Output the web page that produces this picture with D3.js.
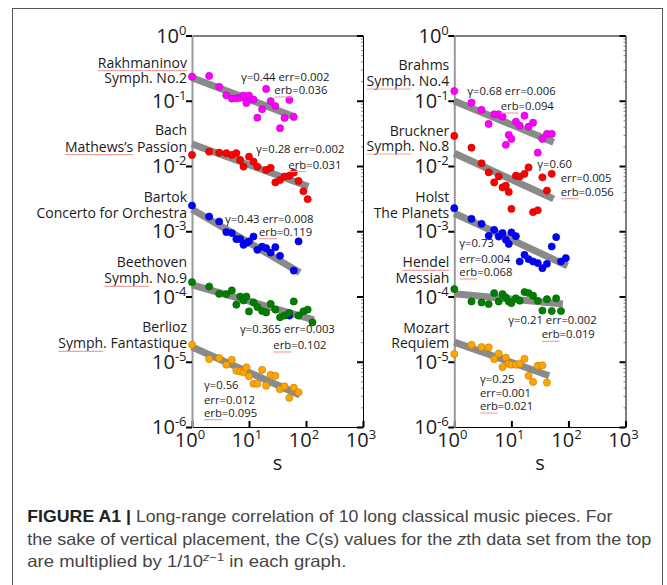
<!DOCTYPE html>
<html>
<head>
<meta charset="utf-8">
<script src="https://cdn.jsdelivr.net/npm/d3@7"></script>
<style>
  body { margin: 0; background: #fff; }
  svg text { font-family: "Open Sans", "DejaVu Sans", sans-serif; }
</style>
</head>
<body>
<div id="graph"></div>
<script>
// window sizes s shared by all pieces (log spaced)
const sGrid = [1, 2, 3, 4, 5, 6, 7, 8, 9, 10, 12, 14, 17, 20, 24, 29, 35, 42, 51, 61, 74, 90, 107, 130];

// LEFT GRAPH - C(s) values, one entry per sGrid position (null = no point)
const cRakhmaninov = [0.234, 0.24, 0.164, 0.121, 0.108, 0.109, 0.111, 0.120, 0.0925, 0.120, 0.104, 0.055, 0.074, 0.152, 0.099, 0.083, 0.038, 0.0545, 0.103, 0.0565];
const cBach = [0.0148, 0.0166, 0.0160, 0.0157, 0.0148, 0.0157, 0.0124, 0.0098, null, 0.0139, 0.0117, 0.0098, null, 0.0087, 0.0094, 0.0056, 0.0061, 0.0069, 0.0071, 0.0079, 0.0059, 0.0041, 0.0031];
const cBartok = [0.00248, 0.00168, 0.00141, 0.00097, 0.00094, 0.00076, 0.00076, 0.00062, 0.00066, 0.00070, 0.00083, 0.00052, 0.00058, 0.00055, 0.00047, 0.00057, 0.00042, null, 0.000051, 0.00025, 0.00070];
const cBeethoven = [1.66e-4, 1.42e-4, 1.10e-4, 1.09e-4, 1.24e-4, 7.5e-5, 1.0e-4, 8.7e-5, 1.0e-4, 5.9e-5, 8.1e-5, 6.9e-5, 6.0e-5, 5.7e-5, 7.7e-5, 6.3e-5, 4.8e-5, 5.1e-5, 5.6e-5, 8.4e-5, 5.1e-5, 5.9e-5, 6.3e-5, 4.0e-5];
const cBerlioz = [1.82e-5, 1.10e-5, 1.14e-5, 9.0e-6, 1.07e-5, 7.3e-6, 7.1e-6, 6.9e-6, 8.2e-6, 6.0e-6, 4.6e-6, 4.6e-6, 7.5e-6, 4.3e-6, 6.3e-6, 6.1e-6, 3.8e-6, 4.2e-6, 2.8e-6, 4.0e-6, 3.4e-6];

// RIGHT GRAPH
const cBrahms = [0.141, 0.0935, 0.0723, 0.0441, 0.0621, 0.0621, 0.0571, 0.0211, 0.0299, 0.0260, 0.0479, 0.0416, 0.0591, 0.0401, 0.0462, 0.0160, 0.0260, 0.0310, 0.0310];
const cBruckner = [0.0289, 0.0191, 0.0110, 0.0080, 0.0056, 0.0069, 0.0047, 0.0050, 0.0040, 0.0022, 0.0071, 0.0069, 0.0076, 0.0095, 0.00196, 0.0021, 0.0067, 0.0042, 0.0076];
const cHolst = [0.00226, 0.00155, 0.00130, 0.00085, 0.00105, 0.00083, 0.00094, 0.00074, 0.00064, 0.00096, 0.00084, 0.000344, 0.000435, 0.000374, 0.000344, 0.000325, 0.000272, 0.000317, 0.000583, 0.000813, 0.000344, 0.000387];
const cHendel = [1.30e-4, 8.4e-5, 8.1e-5, 7.65e-5, 1.13e-4, 8.4e-5, 1.09e-4, 9.7e-5, 8.4e-5, 7.9e-5, 9.4e-5, 8.6e-5, 1.17e-4, 1.13e-4, 1.03e-4, 8.6e-5, 6.1e-5, 9.1e-5, 6.0e-5, 9.4e-5, 6.0e-5];
const cMozart = [1.31e-5, 1.82e-5, 1.68e-5, 1.66e-5, 1.10e-5, 1.33e-5, 8.3e-6, 1.16e-5, 9.3e-6, 9.0e-6, 9.0e-6, 9.3e-6, 1.11e-5, 6.1e-6, 4.9e-6, 8.7e-6, 8.8e-6, 4.8e-6];

// fitted power-law lines: C at s=1, last s, C at last s
const leftFitC0 = [0.225, 0.0218, 0.00218, 1.51e-4, 1.68e-5];
const leftFitS1 = [64, 110, 78, 138, 78];
const leftFitC1 = [0.0565, 0.00484, 0.000233, 4.4e-5, 3.1e-6];
const rightFitC0 = [0.0993, 0.0157, 0.00189, 1.10e-4, 2.0e-5];
const rightFitS1 = [55, 55, 96, 80, 46];
const rightFitC1 = [0.0231, 0.00313, 0.000295, 7.7e-5, 6.1e-6];

const seriesColors = ["#ff00ff", "#ff0000", "#0000ff", "#008000", "#ffa500"];

// "~" marks words with the red spell-check underline
const leftNames = [["~Rakhmaninov~", "Symph. No.2"], ["Bach", "~Mathews’s~ Passion"], ["Bartok", "Concerto for Orchestra"], ["Beethoven", "~Symph~. No.9"], ["Berlioz", "~Symph~. Fantastique"]];
const rightNames = [["Brahms", "~Symph~. No.4"], ["Bruckner", "~Symph~. No.8"], ["Holst", "The Planets"], ["~Hendel~", "Messiah"], ["Mozart", "Requiem"]];
const leftNotes = [["γ=0.44 err=0.002", "~erb~=0.036"], ["γ=0.28 err=0.002", "~erb~=0.031"], ["γ=0.43 err=0.008", "~erb~=0.119"], ["γ=0.365 err=0.003", "~erb~=0.102"], ["γ=0.56", "err=0.012", "~erb~=0.095"]];
const rightNotes = [["γ=0.68 err=0.006", "~erb~=0.094"], ["γ=0.60", "err=0.005", "~erb~=0.056"], ["γ=0.73", "err=0.004", "~erb~=0.068"], ["γ=0.21 err=0.002", "~erb~=0.019"], ["γ=0.25", "err=0.001", "~erb~=0.021"]];

const yExponents = [0, -1, -2, -3, -4, -5, -6];
const xExponents = [0, 1, 2, 3];

var svgWidth = 667;
var svgHeight = 585;

var svg = d3.select("#graph")
  .append("svg")
  .attr("width", svgWidth)
  .attr("height", svgHeight);

// figure box
svg.append("rect")
  .attr("x", 12.5).attr("y", 8.5)
  .attr("width", 650).attr("height", 600)
  .attr("fill", "none").attr("stroke", "#555");

var plotTop = 35.5, plotBottom = 427;
var yScale = d3.scaleLog().domain([1e-6, 1]).range([plotBottom, plotTop]);

// text with optional "~word~" underlines
function addText(g, str, x, y, anchor, size) {
  let plain = "", open = -1;
  const ranges = [];
  for (const ch of str) {
    if (ch === "~") {
      if (open < 0) open = plain.length;
      else { ranges.push([open, plain.length]); open = -1; }
    } else plain += ch;
  }
  const t = g.append("text")
    .attr("x", x).attr("y", y)
    .attr("text-anchor", anchor)
    .attr("font-size", size)
    .attr("fill", "#1a1a1a")
    .text(plain);
  ranges.forEach(r => {
    const n = t.node();
    const xa = n.getStartPositionOfChar(r[0]).x;
    const xb = n.getEndPositionOfChar(r[1] - 1).x;
    g.append("line")
      .attr("x1", xa).attr("x2", xb)
      .attr("y1", y + 3).attr("y2", y + 3)
      .attr("stroke", "#f2a3a3").attr("stroke-width", 1.2);
  });
  return t;
}

function pow10(t, e) {
  t.append("tspan").text("10");
  t.append("tspan").attr("dy", -8).attr("font-size", 13).text(e);
}

function drawPanel(x0, x1, series, fitC0, fitS1, fitC1, names, namePos, notes, notePos) {
  var xScale = d3.scaleLog().domain([1, 1000]).range([x0, x1]);
  var g = svg.append("g");

  // frame + ticks
  var decades = yExponents.map(e => Math.pow(10, e));
  var minors = [];
  for (let e = -6; e < 0; e++) for (let m = 2; m < 10; m++) minors.push(m * Math.pow(10, e));

  g.append("g").attr("transform", `translate(0, ${plotTop})`)
    .call(d3.axisTop(xScale).tickValues([]).tickSizeOuter(0))
    .select(".domain").attr("stroke", "#000");

  var rMinor = g.append("g").attr("transform", `translate(${x1}, 0)`)
    .call(d3.axisRight(yScale).tickValues(minors).tickSizeInner(-2).tickSizeOuter(0).tickFormat(""));
  rMinor.select(".domain").remove();
  rMinor.selectAll(".tick line").attr("stroke", "#888");

  var rAxis = g.append("g").attr("transform", `translate(${x1}, 0)`)
    .call(d3.axisRight(yScale).tickValues(decades).tickSizeInner(-6).tickSizeOuter(0).tickFormat(""));
  rAxis.select(".domain").attr("stroke", "#000");
  rAxis.selectAll(".tick line").attr("stroke", "#000").attr("stroke-width", 2);

  var bAxis = g.append("g").attr("transform", `translate(0, ${plotBottom})`)
    .call(d3.axisBottom(xScale).tickValues(xExponents.map(e => Math.pow(10, e))).tickSizeInner(-6).tickSizeOuter(0).tickFormat(""));
  bAxis.select(".domain").attr("stroke", "#000");
  bAxis.selectAll(".tick line").attr("stroke", "#000").attr("stroke-width", 2);

  var lAxis = g.append("g").attr("transform", `translate(${x0}, 0)`)
    .call(d3.axisLeft(yScale).tickValues(decades).tickSizeInner(6).tickSizeOuter(0).tickFormat(""));
  lAxis.select(".domain").attr("stroke", "#9a9a9a").attr("stroke-width", 2);
  lAxis.selectAll(".tick line").attr("stroke", "#000").attr("stroke-width", 2);

  // tick labels
  yExponents.forEach(e => {
    var t = g.append("text")
      .attr("x", x0 - 5.5).attr("y", yScale(Math.pow(10, e)) + 7)
      .attr("text-anchor", "end").attr("font-size", 20).attr("fill", "#1a1a1a");
    pow10(t, e);
  });
  xExponents.forEach(e => {
    var t = g.append("text")
      .attr("x", xScale(Math.pow(10, e)) - 2).attr("y", 447)
      .attr("text-anchor", "middle").attr("font-size", 20).attr("fill", "#1a1a1a");
    pow10(t, e);
  });
  g.append("text").attr("x", (x0 + x1) / 2).attr("y", 470)
    .attr("text-anchor", "middle").attr("font-size", 20).attr("fill", "#1a1a1a").text("s");

  // fitted lines
  var drawLine = d3.line().x(d => xScale(d[0])).y(d => yScale(d[1]));
  series.forEach((c, i) => {
    g.append("path")
      .attr("d", drawLine([[1, fitC0[i]], [fitS1[i], fitC1[i]]]))
      .attr("stroke", "#8a8a8a").attr("stroke-width", 7).attr("fill", "none");
  });

  // points
  series.forEach((c, i) => {
    var pts = c.map((v, k) => [sGrid[k], v]).filter(d => d[1] != null);
    g.selectAll(null).data(pts).enter().append("circle")
      .attr("cx", d => xScale(d[0]))
      .attr("cy", d => yScale(d[1]))
      .attr("r", 3.6)
      .attr("fill", seriesColors[i])
      .attr("stroke", d3.color(seriesColors[i]).darker(0.8))
      .attr("stroke-width", 0.6);
  });

  // piece names
  names.forEach((lines, i) => {
    lines.forEach((s, j) => addText(g, s, x0 - 5, namePos[i][j], "end", 14));
  });
  // exponent notes
  notes.forEach((lines, i) => {
    lines.forEach((s, j) => addText(g, s, notePos[i][j][0], notePos[i][j][1], "start", 11.3));
  });
}

drawPanel(192, 363, [cRakhmaninov, cBach, cBartok, cBeethoven, cBerlioz],
  leftFitC0, leftFitS1, leftFitC1,
  leftNames, [[67.7, 82.7], [135, 151.7], [201.7, 217.5], [267.3, 283.3], [331.7, 348.3]],
  leftNotes, [[[241, 81], [274.3, 94]], [[256, 153], [288.3, 168.5]], [[225, 223.3], [259, 235.7]],
              [[240, 333.3], [273.3, 349]], [[204, 389], [204, 404], [204, 416.7]]]);

drawPanel(454.3, 625.5, [cBrahms, cBruckner, cHolst, cHendel, cMozart],
  rightFitC0, rightFitS1, rightFitC1,
  rightNames, [[70, 86], [136, 151], [201.7, 217.5], [267.3, 283.3], [332.7, 348.3]],
  rightNotes, [[[467.3, 95], [500.7, 110]], [[537.3, 168.3], [560.7, 182.3], [560.7, 195.7]],
               [[459.3, 247.3], [459.3, 263.3], [459.3, 276]], [[508.3, 324], [541.7, 338.3]],
               [[480, 383.3], [480, 396.7], [480, 410]]]);

// caption
var capFont = "'Liberation Sans', Arial, sans-serif";
var cap = svg.append("g")
  .attr("font-size", 16.5)
  .attr("fill", "#454545");

function capLine(y, len) {
  return cap.append("text").attr("x", 27.3).attr("y", y)
    .style("font-family", capFont)
    .attr("textLength", len).attr("lengthAdjust", "spacingAndGlyphs");
}

var l1 = capLine(521.7, 585);
l1.append("tspan").attr("font-weight", "bold").attr("fill", "#222").text("FIGURE A1 |");
l1.append("tspan").text(" Long-range correlation of 10 long classical music pieces. For");

var l2 = capLine(545, 624);
l2.append("tspan").text("the sake of vertical placement, the C(s) values for the ");
l2.append("tspan").attr("font-style", "italic").text("z");
l2.append("tspan").text("th data set from the top");

var l3 = capLine(567, 319);
l3.append("tspan").text("are multiplied by 1/10");
l3.append("tspan").attr("dy", -6).attr("font-size", 11.5).attr("font-style", "italic").text("z");
l3.append("tspan").attr("font-size", 11.5).text("−1");
l3.append("tspan").attr("dy", 6).text(" in each graph.");
</script>
</body>
</html>
